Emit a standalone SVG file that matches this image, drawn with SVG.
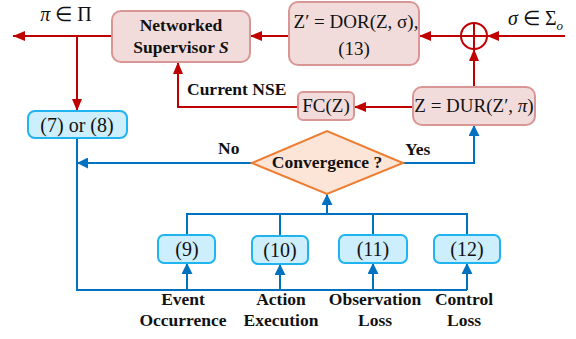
<svg xmlns="http://www.w3.org/2000/svg" width="576" height="339" viewBox="0 0 576 339">
<defs>
<marker id="ar" markerUnits="userSpaceOnUse" markerWidth="12" markerHeight="10" refX="12" refY="5" orient="auto"><path d="M0,0 L12,5 L0,10 z" fill="#c00000"/></marker>
<marker id="ab" markerUnits="userSpaceOnUse" markerWidth="11" markerHeight="11" refX="11" refY="5.5" orient="auto"><path d="M0,0 L11,5.5 L0,11 z" fill="#0070c0"/></marker>
<style>
.red{fill:#f2dcdb;stroke:#d99694;stroke-width:2}
.blue{fill:#cdeefc;stroke:#1fb4ef;stroke-width:2}
.rl{fill:none;stroke:#c00000;stroke-width:2}
.bl{fill:none;stroke:#0070c0;stroke-width:2}
text{font-family:"Liberation Serif","Times New Roman",serif;fill:#111}
.b{font-weight:bold;font-size:17.5px}
.m{font-size:19px}
.n{font-size:20px}
</style>
</defs>
<g id="connectors">
<path class="rl" d="M112,36 H13" marker-end="url(#ar)"/>
<path class="rl" d="M77,36 V111" marker-end="url(#ar)"/>
<path class="rl" d="M289,36 H250" marker-end="url(#ar)"/>
<path class="rl" d="M461,36 H419" marker-end="url(#ar)"/>
<path class="rl" d="M565,36 H487" marker-end="url(#ar)"/>
<path class="rl" d="M474,87 V49" marker-end="url(#ar)"/>
<path class="rl" d="M413,107 H354" marker-end="url(#ar)"/>
<path class="rl" d="M298,107 H178 V62" marker-end="url(#ar)"/>
<path class="bl" d="M252,163 H77" marker-end="url(#ab)"/>
<path class="bl" d="M403,163 H474 V125" marker-end="url(#ab)"/>
<path class="bl" d="M77,138 V290 H467"/>
<path class="bl" d="M187,235 V214 H467 V235 M280,214 V236 M373,214 V235"/>
<path class="bl" d="M327,214 V194" marker-end="url(#ab)"/>
<path class="bl" d="M187,290 V263" marker-end="url(#ab)"/>
<path class="bl" d="M280,290 V264" marker-end="url(#ab)"/>
<path class="bl" d="M373,290 V263" marker-end="url(#ab)"/>
<path class="bl" d="M467,290 V263" marker-end="url(#ab)"/>
</g>
<text x="66" y="21" class="n" text-anchor="middle"><tspan font-style="italic">π</tspan> ∈ Π</text>
<text x="508" y="25" class="n"><tspan font-style="italic">σ</tspan> ∈ Σ<tspan font-style="italic" font-size="13" dy="5">o</tspan></text>
<text x="187" y="95" class="b">Current NSE</text>
<text x="218" y="154" class="b">No</text>
<text x="405" y="155" class="b">Yes</text>
<g id="supervisor">
<rect class="red" x="112" y="11" width="138" height="51" rx="9"/>
<text x="181" y="31" class="b" text-anchor="middle">Networked</text>
<text x="181" y="53" class="b" text-anchor="middle">Supervisor <tspan font-style="italic">S</tspan></text>
</g>
<g id="dor">
<rect class="red" x="289" y="2" width="130" height="63" rx="9"/>
<text x="356" y="28" class="m" text-anchor="middle">Z′ = DOR(Z, σ),</text>
<text x="354" y="55" class="m" text-anchor="middle">(13)</text>
</g>
<g id="oplus">
<circle cx="474" cy="36" r="13" fill="none" stroke="#c00000" stroke-width="2"/>
<path d="M461,36 H487 M474,23 V49" stroke="#c00000" stroke-width="2"/>
</g>
<g id="dur">
<rect class="red" x="413" y="87" width="122" height="38" rx="9"/>
<text x="474" y="112" class="m" text-anchor="middle">Z = DUR(Z′, <tspan font-style="italic">π</tspan>)</text>
</g>
<g id="fc">
<rect class="red" x="298" y="92" width="56" height="28" rx="5"/>
<text x="326" y="112" class="m" text-anchor="middle">FC(Z)</text>
</g>
<g id="eq78">
<rect class="blue" x="28" y="111" width="99" height="27" rx="7"/>
<text x="77" y="132" class="n" text-anchor="middle">(7) or (8)</text>
</g>
<g id="convergence">
<path d="M252,163 L327,131 L403,163 L327,194 z" fill="#fce4d6" stroke="#ed7d31" stroke-width="2"/>
<text x="327" y="168" class="b" text-anchor="middle">Convergence ?</text>
</g>
<g id="eq9">
<rect class="blue" x="158" y="235" width="57" height="28" rx="6"/>
<text x="187" y="256" class="n" text-anchor="middle">(9)</text>
</g>
<g id="eq10">
<rect class="blue" x="252" y="236" width="56" height="28" rx="6"/>
<text x="280" y="257" class="n" text-anchor="middle">(10)</text>
</g>
<g id="eq11">
<rect class="blue" x="339" y="235" width="68" height="28" rx="6"/>
<text x="373" y="256" class="n" text-anchor="middle">(11)</text>
</g>
<g id="eq12">
<rect class="blue" x="434" y="235" width="66" height="28" rx="6"/>
<text x="467" y="256" class="n" text-anchor="middle">(12)</text>
</g>
<g id="labels">
<text x="183" y="305" class="b" text-anchor="middle">Event</text>
<text x="183" y="326" class="b" text-anchor="middle">Occurrence</text>
<text x="281" y="305" class="b" text-anchor="middle">Action</text>
<text x="281" y="326" class="b" text-anchor="middle">Execution</text>
<text x="375" y="305" class="b" text-anchor="middle">Observation</text>
<text x="375" y="326" class="b" text-anchor="middle">Loss</text>
<text x="464" y="305" class="b" text-anchor="middle">Control</text>
<text x="464" y="326" class="b" text-anchor="middle">Loss</text>
</g>
</svg>
